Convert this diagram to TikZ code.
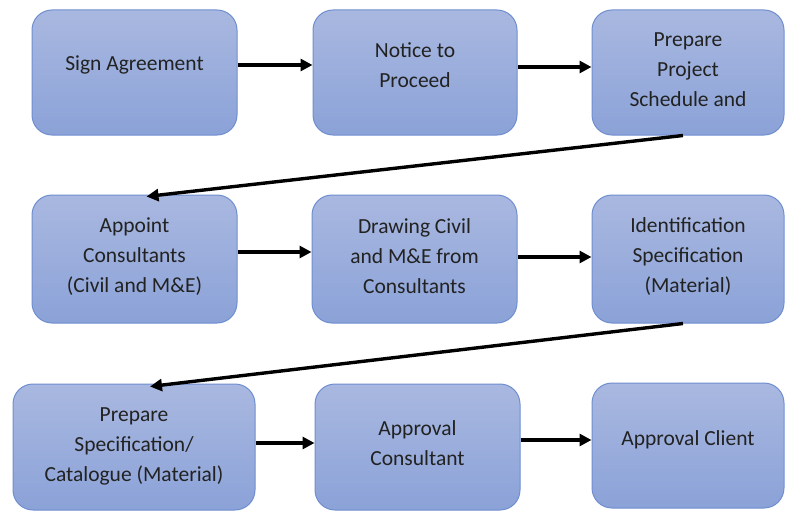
\documentclass[tikz,border=0pt]{standalone}
\usepackage{fontspec}
\setmainfont{Carlito}
\usetikzlibrary{arrows.meta,calc}
\definecolor{boxtop}{HTML}{A9B8E0}
\definecolor{boxbot}{HTML}{8BA2D8}
\definecolor{boxline}{HTML}{6F8ED0}
\definecolor{txt}{HTML}{222222}
\begin{document}
\begin{tikzpicture}[x=1pt,y=-1pt,
  box/.style={draw=boxline,line width=1pt,rounded corners=20pt,top color=boxtop,bottom color=boxbot,inner sep=0pt,minimum height=125pt},
  lbl/.style={align=center,text=txt,font=\fontsize{21.5}{30}\selectfont},
  conn/.style={line width=3.4pt,-{Triangle[length=12pt,width=12pt]}}]
\useasboundingbox (0,0) rectangle (785,511);
% row 1
\node[box,minimum width=205pt] (b1) at (134.5,72.5) {};
\node[box,minimum width=204pt] (b2) at (415,72.5) {};
\node[box,minimum width=192pt] (b3) at (688,72.5) {};
% row 2
\node[box,minimum width=205pt,minimum height=128pt] (b4) at (134.5,259) {};
\node[box,minimum width=205pt,minimum height=128pt] (b5) at (414.5,259) {};
\node[box,minimum width=192pt,minimum height=128pt] (b6) at (688,259) {};
% row 3
\node[box,minimum width=242pt,minimum height=126pt] (b7) at (134,447) {};
\node[box,minimum width=205pt,minimum height=126pt] (b8) at (417.5,447) {};
\node[box,minimum width=192pt] (b9) at (688,445.5) {};
% labels
\node[lbl] (t1) at (134.5,65) {Sign Agreement};
\node[lbl] (t2) at (415,65) {Notice to\\Proceed};
\node[lbl] (t3) at (688,70) {Prepare\\Project\\Schedule and};
\node[lbl] (t4) at (134.5,257) {Appoint\\Consultants\\(Civil and M\&E)};
\node[lbl] (t5) at (414.5,256) {Drawing Civil\\and M\&E from\\Consultants};
\node[lbl] (t6) at (688,257) {Identification\\Specification\\(Material)};
\node[lbl] (t7) at (134,446) {Prepare\\Specification/\\Catalogue (Material)};
\node[lbl] (t8) at (417.5,443) {Approval\\Consultant};
\node[lbl] (t9) at (688,440) {Approval Client};
% connectors
\draw[conn] ($(b1.east)+(0,-7.5)$) -- ($(b2.west)+(0,-7.5)$);
\draw[conn] ($(b2.east)+(0,-5.5)$) -- ($(b3.west)+(0,-5.5)$);
\draw[conn] ($(b3.south)+(-5,0)$) -- ($(b4.north)+(12,2)$);
\draw[conn] ($(b4.east)+(0,-7)$) -- ($(b5.west)+(0,-7)$);
\draw[conn] ($(b5.east)+(0,-2)$) -- ($(b6.west)+(0,-2)$);
\draw[conn] ($(b6.south)+(-5,0)$) -- ($(b7.north)+(16,3)$);
\draw[conn] ($(b7.east)+(0,-4)$) -- ($(b8.west)+(0,-4)$);
\draw[conn] ($(b8.east)+(0,-7)$) -- ($(b9.west)+(0,-5.5)$);
\end{tikzpicture}
\end{document}
